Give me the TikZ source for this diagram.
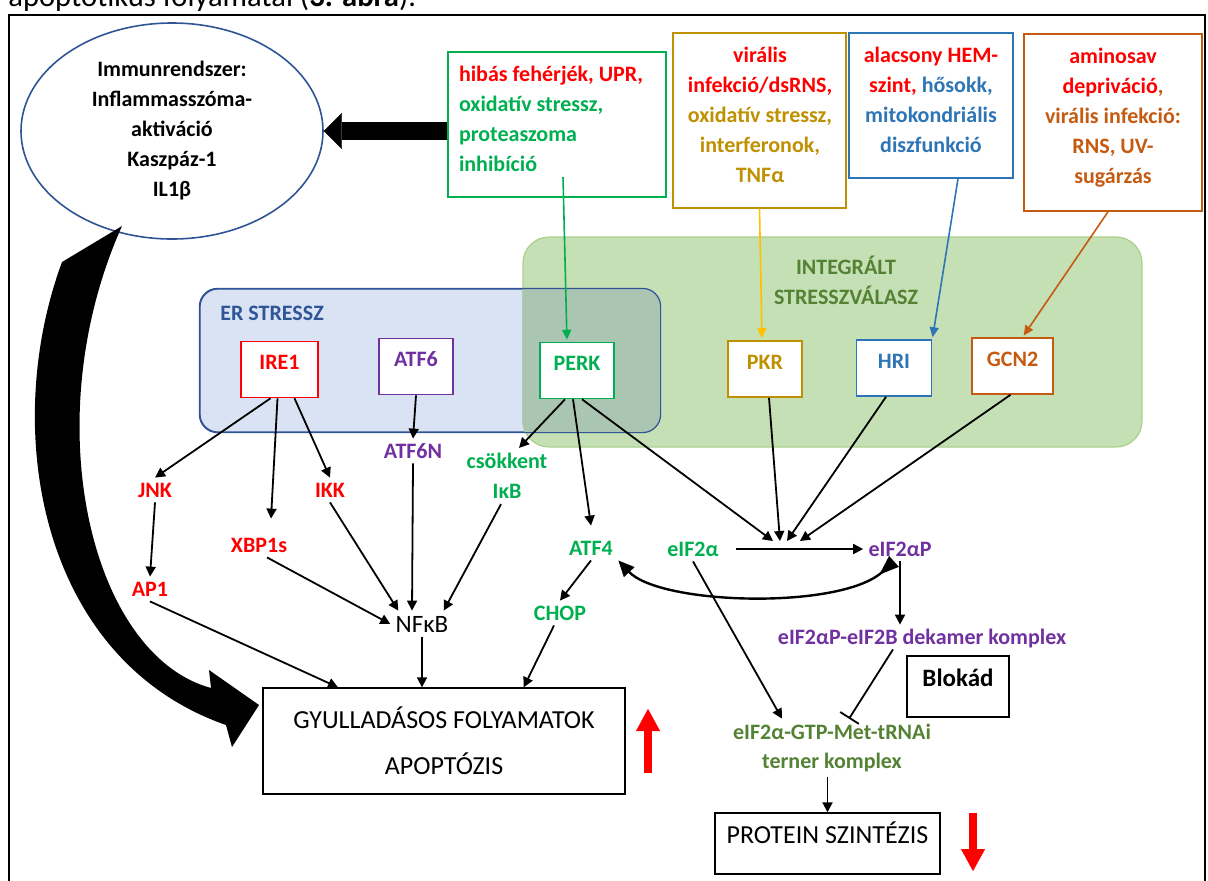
\documentclass[tikz,border=0pt]{standalone}
\usepackage{fontspec}
\setmainfont{Carlito}
\usepackage{xcolor}
\usepackage{tikz}
\usetikzlibrary{shapes.geometric, arrows.meta}
\definecolor{cred}{HTML}{FF0000}
\definecolor{cgreen}{HTML}{00B050}
\definecolor{cpurple}{HTML}{7030A0}
\definecolor{cgold}{HTML}{BF9000}
\definecolor{cyellow}{HTML}{FFC000}
\definecolor{cblue}{HTML}{2E75B6}
\definecolor{corange}{HTML}{C55A11}
\definecolor{cdkgreen}{HTML}{548235}
\definecolor{erfill}{HTML}{DAE3F3}
\definecolor{erline}{HTML}{2F5597}
\definecolor{isrfill}{HTML}{C5E0B4}
\definecolor{isrline}{HTML}{A9D18E}
\definecolor{ovlfill}{HTML}{AAC5B2}
\tikzstyle{arrow} = [line width=0.9pt, -{Triangle[length=5pt,width=5pt]}]
\tikzstyle{carrow} = [line width=0.8pt, -{Triangle[length=5pt,width=4.5pt]}, shorten >=1pt]
\tikzstyle{fatarrow} = [line width=9pt, -{Triangle[length=9pt,width=18pt,line width=0.1pt]}]
\tikzstyle{redarrow} = [draw=cred, line width=4pt, -{Triangle[length=11pt,width=12pt,line width=0.1pt]}]
\tikzstyle{fatcurve} = [line width=1.2pt, {Triangle[reversed,length=10pt,width=7pt]}-{Triangle[length=8pt,width=7pt]}]
\tikzstyle{kinase} = [rectangle, draw, fill=white, line width=0.8pt, inner sep=0pt, minimum height=28pt, text height=7pt, text depth=7pt, font=\bfseries\fontsize{11}{15}\selectfont]
\tikzstyle{mol} = [inner sep=2.5pt, text height=7pt, text depth=0pt, font=\bfseries\fontsize{11}{15}\selectfont]
\tikzstyle{molx} = [inner sep=2.5pt, align=center, font=\bfseries\fontsize{11}{15}\selectfont]
\tikzstyle{srcbox} = [rectangle, draw, fill=white, line width=0.75pt]
\tikzstyle{srctext} = [inner sep=0pt, align=center, font=\bfseries\fontsize{11}{15}\selectfont]
\tikzstyle{outcome} = [rectangle, draw, line width=0.7pt, inner sep=0pt, font=\fontsize{13}{23}\selectfont]
\tikzstyle{region} = [rectangle, line width=0.6pt, inner sep=0pt]

\begin{document}
\begin{tikzpicture}[x=0.5pt, y=-0.5pt]
\useasboundingbox (0,0) rectangle (1208,880);
\clip (0,0) rectangle (1208,880);

% Caption line above the figure
\node (caption) [anchor=base west, inner sep=0pt, font=\fontsize{15.3}{18}\selectfont] at (8,6) {apoptotikus folyamatai (\textbf{3. ábra}).};

% Stress regions
\node (er) [region, rounded corners=9pt, fill=erfill, draw=erline, minimum width=230pt, minimum height=71.5pt] at (430,360.5) {};
\node (isr) [region, rounded corners=13pt, fill=isrfill, draw=isrline, minimum width=309.5pt, minimum height=105pt] at (832.5,342) {};
\begin{scope}
\clip [rounded corners=9pt] (er.south west) rectangle (er.north east);
\fill [ovlfill, rounded corners=13pt] (isr.south west) rectangle (isr.north east);
\end{scope}
\draw [erline, line width=0.6pt, rounded corners=9pt] (er.south west) rectangle (er.north east);
\node (ertitle) [anchor=west, inner sep=0pt, text=erline, font=\bfseries\fontsize{11}{15}\selectfont] at (220,313) {ER STRESSZ};
\node (isrtitle) [srctext, text=cdkgreen] at (846,280) {INTEGRÁLT\\STRESSZVÁLASZ};

% Kinases
\node (ire) [kinase, draw=cred, text=cred, minimum width=38.5pt] at (279.5,369.5) {IRE1};
\node (atf6) [kinase, draw=cpurple, text=cpurple, minimum width=37pt] at (416,366.5) {ATF6};
\node (perk) [kinase, draw=cgreen, text=cgreen, minimum width=37pt] at (577,370.5) {PERK};
\node (pkr) [kinase, draw=cgold, text=cgold, minimum width=37pt] at (765,369) {PKR};
\node (hri) [kinase, draw=cblue, text=cblue, minimum width=37.5pt] at (894,368) {HRI};
\node (gcn) [kinase, draw=corange, text=corange, minimum width=40.5pt] at (1012.5,366) {GCN2};

% Stress sources
\node (srcperk) [srcbox, draw=cgreen, minimum width=109pt, minimum height=72.5pt] at (557,124.5) {};
\node (srcpkr) [srcbox, draw=cgold, minimum width=86.5pt, minimum height=87.5pt] at (759.5,120.5) {};
\node (srchri) [srcbox, draw=cblue, minimum width=82pt, minimum height=72.5pt] at (931,105.5) {};
\node (srcgcn) [srcbox, draw=corange, minimum width=89pt, minimum height=88.5pt] at (1113,122.5) {};
\node (txtperk) [srctext, text=cgreen, text width=100pt, align=flush left] at (559,119) {\textcolor{cred}{hibás fehérjék, UPR,}\\oxidatív stressz,\\proteaszoma\\inhibíció};
\node (txtpkr) [srctext, text=cgold] at (760,115) {\textcolor{cred}{virális}\\\textcolor{cred}{infekció/dsRNS,}\\oxidatív stressz,\\interferonok,\\TNFα};
\node (txthri) [srctext, text=cblue] at (931,100) {\textcolor{cred}{alacsony HEM-}\\\textcolor{cred}{szint,} hősokk,\\mitokondriális\\diszfunkció};
\node (txtgcn) [srctext, text=corange] at (1113,118) {\textcolor{cred}{aminosav}\\\textcolor{cred}{depriváció},\\virális infekció:\\RNS, UV-\\sugárzás};

% Immune system
\node (immune) [ellipse, draw=erline, line width=0.8pt, fill=white, inner sep=0pt, minimum width=151pt, minimum height=108pt, align=center, font=\bfseries\fontsize{11}{15}\selectfont] at (172,131) {Immunrendszer:\\Inflammasszóma-\\aktiváció\\Kaszpáz-1\\IL1β};

% Downstream molecules
\node (jnk) [mol, text=cred] at (155,490) {JNK};
\node (xbp) [mol, text=cred] at (259,545) {XBP1s};
\node (ikk) [mol, text=cred] at (330,490) {IKK};
\node (ap1) [mol, text=cred] at (150,589) {AP1};
\node (atfn) [mol, text=cpurple] at (413,451) {ATF6N};
\node (ikb) [molx, text=cgreen] at (507,476) {csökkent\\IκB};
\node (nfkb) [inner sep=2.5pt, text height=8pt, text depth=0pt, font=\fontsize{12.5}{15}\selectfont] at (422,624) {NFκB};
\node (atf4) [mol, text=cgreen] at (591,548) {ATF4};
\node (chop) [mol, text=cgreen] at (560,613) {CHOP};
\node (eif) [mol, text=cgreen] at (693,549) {eIF2α};
\node (eifp) [mol, text=cpurple] at (900,549) {eIF2αP};
\node (dek) [mol, text=cpurple] at (922,637) {eIF2αP-eIF2B dekamer komplex};
\node (tern) [molx, text=cdkgreen, font=\bfseries\fontsize{11}{14.5}\selectfont] at (832,748) {eIF2α-GTP-Met-tRNAi\\terner komplex};

% Outcomes
\node (gyull) [outcome, minimum width=181pt, minimum height=53pt, align=center] at (444,741) {GYULLADÁSOS FOLYAMATOK\\APOPTÓZIS};
\node (blokad) [outcome, minimum width=51pt, minimum height=30.5pt, text height=8pt, text depth=8pt, font=\bfseries\fontsize{12.5}{15}\selectfont] at (958,686.5) {Blokád};
\node (prot) [outcome, minimum width=112.5pt, minimum height=30.5pt, text height=8.4pt, text depth=8.4pt] at (827.5,843.5) {PROTEIN SZINTÉZIS};

\coordinate (perkin) at (563,177);
\coordinate (hub) at (787,541);
\coordinate (upa) at (648,773);
\coordinate (upb) at (648,709);
\coordinate (dna) at (973,813);
\coordinate (dnb) at (973,871);

% Sources to kinases
\draw [carrow, cgreen] (perkin) -- ([xshift=-5pt]perk.north);
\draw [carrow, cyellow] (srcpkr.south) -- ([xshift=-1.5pt]pkr.north);
\draw [carrow, cblue] ([xshift=13.5pt]srchri.south) -- (hri.north east);
\draw [carrow, corange] ([xshift=-2.5pt]srcgcn.south) -- ([xshift=5pt]gcn.north);

% Immune connections
\draw [fatarrow] (srcperk.west |- immune.east) -- (immune.east);
\fill [black] (62,262) .. controls (0,430) and (40,660) .. (226,725) -- (232,747) -- (259,705) -- (209,670) -- (211,688) .. controls (90,655) and (35,420) .. (122,226) -- cycle;

% ER stress branches
\draw [arrow] ([xshift=-4.5pt]ire.south) -- (jnk.north);
\draw [arrow] ([xshift=-1pt]ire.south) -- ([xshift=6pt,yshift=7pt]xbp.north);
\draw [arrow] ([xshift=7.5pt]ire.south) -- (ikk.north);
\draw [arrow] (atf6.south) -- (atfn.north);
\draw [arrow] (jnk.south) -- (ap1.north);
\draw [arrow] ([xshift=4pt]xbp.south) -- (nfkb.west);
\draw [arrow] (ikk.south) -- ([xshift=4pt]nfkb.north west);
\draw [arrow] (atfn.south) -- ([xshift=-5pt]nfkb.north);
\draw [arrow] ([xshift=-3pt]ikb.south) -- ([xshift=-5pt]nfkb.north east);
\draw [arrow] ([xshift=-6pt]perk.south) -- ([xshift=6pt]ikb.north);
\draw [arrow] ([xshift=-2pt]perk.south) -- ([yshift=5pt]atf4.north);
\draw [arrow] (atf4.south) -- (chop.north);
\draw [arrow] (ap1.south) -- ([xshift=-53pt]gyull.north);
\draw [arrow] (nfkb.south) -- (nfkb.south |- gyull.north);
\draw [arrow] ([xshift=-3pt]chop.south) -- ([xshift=-51pt]gyull.north east);

% Integrated stress response
\draw [arrow] ([xshift=2.5pt]perk.south) -- ([xshift=-7pt]hub);
\draw [arrow] ([xshift=2pt]pkr.south) -- ([xshift=-3.5pt]hub);
\draw [arrow] ([xshift=-4pt]hri.south) -- (hub);
\draw [arrow] ([xshift=-1pt]gcn.south) -- ([xshift=6.5pt]hub);
\draw [arrow, shorten <=6pt] (eif.east) -- (eifp.west);
\draw [fatcurve] ([xshift=-3pt]eifp.south) .. controls (840,610) and (660,605) .. (atf4.south east);
\draw [arrow] (eifp.south) -- (eifp.south |- dek.north);
\draw [arrow] (eif.south) -- ([xshift=-25pt]tern.north);
\draw [line width=0.9pt, -{Bar[width=11pt]}] ([xshift=-14.5pt]dek.south) -- ([xshift=8.5pt]tern.north);
\draw [arrow] (prot.north |- tern.south) -- (prot.north);

% Up and down
\draw [redarrow] (upa) -- (upb);
\draw [redarrow] (dna) -- (dnb);

% Frame
\draw [line width=1pt] (9,15) rectangle (1205,900);

\end{tikzpicture}
\end{document}
